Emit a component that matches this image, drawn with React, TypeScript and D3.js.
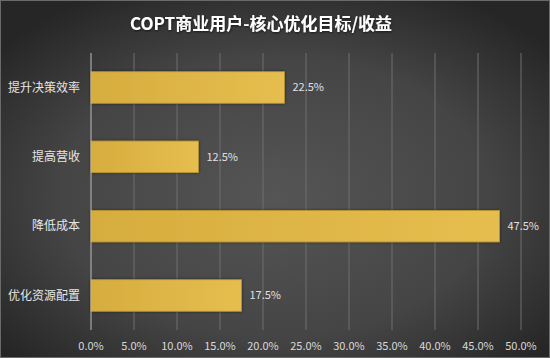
import React from "react";
import * as d3 from "d3";

const categories = ["提升决策效率", "提高营收", "降低成本", "优化资源配置"];
const values = [22.5, 12.5, 47.5, 17.5];
const ticks = [0, 5, 10, 15, 20, 25, 30, 35, 40, 45, 50];
const title = "COPT商业用户-核心优化目标/收益";

export default function App() {
  const W = 550, H = 358;
  const x = d3.scaleLinear().domain([0, 50]).range([91, 521]);
  const y = d3.scaleBand().domain(categories).range([53, 330]).paddingInner(0.545).paddingOuter(0.27);
  const font = "'Noto Sans CJK SC', 'Microsoft YaHei', sans-serif";
  return (
    <svg width={W} height={H} style={{ position: "absolute", left: 0, top: 0 }}>
      <defs>
        <radialGradient id="bg" cx="50%" cy="55%" r="65%">
          <stop offset="0%" stopColor="#555555" />
          <stop offset="60%" stopColor="#454545" />
          <stop offset="100%" stopColor="#262626" />
        </radialGradient>
        <linearGradient id="bar" x1="0" y1="0" x2="1" y2="0">
          <stop offset="0%" stopColor="#d6ad3e" />
          <stop offset="100%" stopColor="#e6be4f" />
        </linearGradient>
        <filter id="glow" x="-5%" y="-30%" width="110%" height="160%">
          <feGaussianBlur in="SourceAlpha" stdDeviation="1.5" />
          <feOffset dx="0" dy="0" result="b" />
          <feFlood floodColor="#000" floodOpacity="0.5" />
          <feComposite in2="b" operator="in" />
          <feMerge>
            <feMergeNode />
            <feMergeNode in="SourceGraphic" />
          </feMerge>
        </filter>
        <filter id="tshadow" x="-5%" y="-30%" width="110%" height="160%">
          <feDropShadow dx="0.5" dy="1" stdDeviation="1" floodColor="#000" floodOpacity="0.6" />
        </filter>
      </defs>
      <rect x={0} y={0} width={W} height={H} fill="url(#bg)" />
      <rect x={0.5} y={0.5} width={W - 1} height={H - 1} fill="none" stroke="#6a6a6a" strokeWidth={1} />
      <text x={261} y={30} textAnchor="middle" fill="#ffffff" fontFamily={font} fontWeight="bold" fontSize={17} filter="url(#tshadow)">
        {title}
      </text>
      {ticks.map((t) => (
        <g key={t}>
          {t > 0 && (
            <line x1={x(t)} x2={x(t)} y1={53} y2={330} stroke="#6e6e6e" strokeWidth={1} />
          )}
          <text x={x(t)} y={350} textAnchor="middle" fill="#d9d9d9" fontFamily={font} fontSize={11}>
            {d3.format(".1f")(t) + "%"}
          </text>
        </g>
      ))}
      {categories.map((c, i) => (
        <g key={c}>
          <rect
            x={x(0)}
            y={y(c)!}
            width={x(values[i]) - x(0)}
            height={y.bandwidth()}
            fill="url(#bar)"
            stroke="#b8922e"
            strokeWidth={0.8}
            filter="url(#glow)"
          />
          <text x={80} y={y(c)! + y.bandwidth() / 2} dy="0.35em" textAnchor="end" fill="#e6e6e6" fontFamily={font} fontSize={12}>
            {c}
          </text>
          <text x={x(values[i]) + 8} y={y(c)! + y.bandwidth() / 2} dy="0.35em" fill="#e0e0e0" fontFamily={font} fontSize={11}>
            {d3.format(".1f")(values[i]) + "%"}
          </text>
        </g>
      ))}
      <line x1={x(0)} x2={x(0)} y1={53} y2={330} stroke="#bdbdbd" strokeWidth={1} />
    </svg>
  );
}
